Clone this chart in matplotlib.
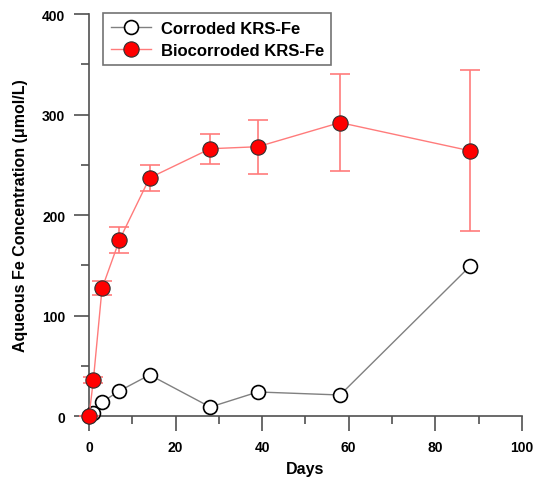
import matplotlib
matplotlib.use("Agg")
import matplotlib.pyplot as plt
from matplotlib.ticker import MultipleLocator

plt.rcParams['font.family'] = ['Liberation Sans', 'DejaVu Sans']

days = [0, 1, 3, 7, 14, 28, 39, 58, 88]
corroded = [0, 3, 14, 25, 41, 9, 24, 21, 149]
biocorroded = [0, 36, 127, 175, 237, 266, 268, 292, 264]
bio_err = [0, 3, 7, 13, 13, 15, 27, 48, 80]

fig = plt.figure(figsize=(5.43, 4.85), dpi=100)
ax = fig.add_axes([0.164, 0.140, 0.797, 0.829])

ax.plot(days, corroded, color='#808080', lw=1, marker='o', ms=10,
        mfc='white', mec='black', mew=1.2, label='Corroded KRS-Fe', zorder=3)
ax.errorbar(days, biocorroded, yerr=bio_err, fmt='none', ecolor='#ff7b7b',
            elinewidth=1.2, capsize=7, capthick=1.2, zorder=4)
ax.plot(days, biocorroded, color='#ff7b7b', lw=1, marker='o', ms=11,
        mfc='#ff0000', mec='#303030', mew=0.8,
        label='Biocorroded KRS-Fe', zorder=5)

ax.set_xlim(0, 100)
ax.set_ylim(0, 400)
for s in ['top', 'right']:
    ax.spines[s].set_visible(False)
for s in ['left', 'bottom']:
    ax.spines[s].set_color('#505050')
    ax.spines[s].set_linewidth(1.2)
    ax.spines[s].set_zorder(1)
ax.xaxis.set_major_locator(MultipleLocator(20))
ax.xaxis.set_minor_locator(MultipleLocator(10))
ax.yaxis.set_major_locator(MultipleLocator(100))
ax.yaxis.set_minor_locator(MultipleLocator(50))
ax.tick_params(which='major', length=11, width=1.2, color='#505050', pad=6)
ax.tick_params(which='minor', length=5.5, width=1.2, color='#505050')
for lbl in ax.get_xticklabels() + ax.get_yticklabels():
    lbl.set_fontweight('bold')
    lbl.set_fontsize(10)
for p in ax.lines:
    p.set_clip_on(False)
for c in ax.collections:
    c.set_clip_on(False)

ax.set_xlabel('Days', fontsize=11.5, fontweight='bold', labelpad=5)
ax.set_ylabel('Aqueous Fe Concentration (\u03bcmol/L)', fontsize=11.5,
              fontweight='bold', labelpad=10)

leg = ax.legend(loc='upper left', bbox_to_anchor=(0.025, 1.01), frameon=True,
                fancybox=False, edgecolor='#505050', handlelength=2.4,
                borderpad=0.45, labelspacing=0.4, handletextpad=0.6,
                borderaxespad=0.2, prop={'weight': 'bold', 'size': 12})
leg.get_frame().set_linewidth(1.2)

fig.savefig('out.png', dpi=100)
